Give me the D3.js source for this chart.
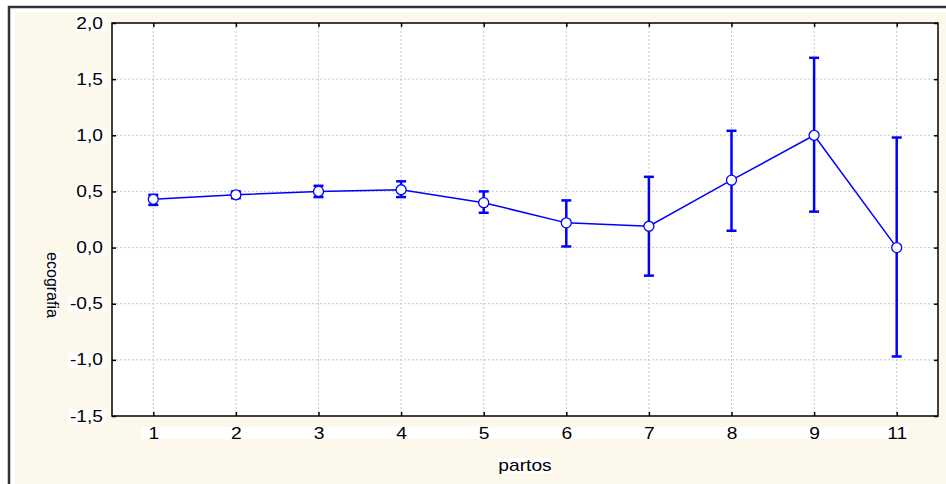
<!DOCTYPE html>
<html>
<head>
<meta charset="utf-8">
<script src="https://cdn.jsdelivr.net/npm/d3@7"></script>
<style>
  body { margin: 0; background: #fff; }
  text { font-family: "Liberation Sans", Arial, sans-serif; }
</style>
</head>
<body>
<div id="chart"></div>
<script>
// partos categories and ecografia means with confidence limits
const categories = ['1', '2', '3', '4', '5', '6', '7', '8', '9', '11'];
const means = [0.43, 0.47, 0.50, 0.515, 0.40, 0.22, 0.19, 0.60, 1.00, 0.00];
const lowerLimits = [0.38, 0.44, 0.45, 0.45, 0.31, 0.01, -0.25, 0.15, 0.32, -0.97];
const upperLimits = [0.47, 0.50, 0.55, 0.59, 0.50, 0.42, 0.63, 1.04, 1.69, 0.98];
const yTicks = [-1.5, -1.0, -0.5, 0.0, 0.5, 1.0, 1.5, 2.0];

const width = 946;
const height = 484;
const plot = { left: 112, right: 938, top: 23, bottom: 416 };
const fontSize = '16px';
const stretch = 'scale(1.2,1)';

const svg = d3.select('#chart')
    .append('svg')
    .attr('width', width)
    .attr('height', height);

// outer frame and cream background
svg.append('rect')
    .attr('x', 0).attr('y', 0)
    .attr('width', width).attr('height', height)
    .attr('fill', '#fff');

svg.append('rect')
    .attr('x', 15).attr('y', 12)
    .attr('width', width - 15).attr('height', height - 12)
    .attr('fill', '#fdf8ec');

svg.append('path')
    .attr('d', `M9,${height} V7 H${width}`)
    .attr('fill', 'none')
    .attr('stroke', '#333')
    .attr('stroke-width', 2.5);

const xScale = d3.scalePoint()
    .domain(categories)
    .range([plot.left, plot.right])
    .padding(0.5);

const yScale = d3.scaleLinear()
    .domain([-1.5, 2.0])
    .range([plot.bottom, plot.top]);

const fmt = d => d3.format('.1f')(d).replace('.', ',').replace('−', '-');

svg.append('rect')
    .attr('x', plot.left).attr('y', plot.top)
    .attr('width', plot.right - plot.left)
    .attr('height', plot.bottom - plot.top)
    .attr('fill', '#fff');

// grid
const grid = svg.append('g')
    .attr('stroke', '#c8c8c8')
    .attr('stroke-width', 1)
    .attr('stroke-dasharray', '2,2');

grid.selectAll('.gy')
    .data(yTicks.filter(d => d > -1.5 && d < 2.0))
    .join('line')
    .attr('x1', plot.left).attr('x2', plot.right)
    .attr('y1', d => yScale(d)).attr('y2', d => yScale(d));

grid.selectAll('.gx')
    .data(categories)
    .join('line')
    .attr('x1', d => xScale(d)).attr('x2', d => xScale(d))
    .attr('y1', plot.top).attr('y2', plot.bottom);

// axes with inward ticks
const axisY = svg.append('g')
    .attr('transform', `translate(${plot.left},0)`)
    .call(d3.axisLeft(yScale).tickValues(yTicks).tickSize(-4).tickFormat(fmt));

const axisYR = svg.append('g')
    .attr('transform', `translate(${plot.right},0)`)
    .call(d3.axisRight(yScale).tickValues(yTicks).tickSize(-4).tickFormat(''));

const axisX = svg.append('g')
    .attr('transform', `translate(0,${plot.bottom})`)
    .call(d3.axisBottom(xScale).tickSize(-4));

const axisXT = svg.append('g')
    .attr('transform', `translate(0,${plot.top})`)
    .call(d3.axisTop(xScale).tickSize(-4).tickFormat(''));

[axisY, axisYR, axisX, axisXT].forEach(a => {
    a.select('.domain').remove();
    a.selectAll('line').attr('stroke', '#000').attr('stroke-width', 1.5);
    a.selectAll('text')
        .attr('fill', '#000')
        .style('font-size', fontSize);
});

axisY.selectAll('.tick text')
    .attr('x', 0)
    .attr('transform', `translate(-9,0) ${stretch}`);

axisX.selectAll('.tick text')
    .attr('y', 0)
    .attr('dy', '0.35em')
    .attr('transform', `translate(0,17) ${stretch}`);

svg.append('rect')
    .attr('x', plot.left).attr('y', plot.top)
    .attr('width', plot.right - plot.left)
    .attr('height', plot.bottom - plot.top)
    .attr('fill', 'none')
    .attr('stroke', '#000')
    .attr('stroke-width', 1.5);

// white boxes behind y tick labels
axisY.selectAll('.tick').each(function () {
    const t = d3.select(this).select('text');
    const b = t.node().getBBox();
    d3.select(this).insert('rect', 'text')
        .attr('transform', t.attr('transform'))
        .attr('x', b.x - 1).attr('y', b.y + 2)
        .attr('width', b.width + 2).attr('height', b.height - 3)
        .attr('fill', '#fff');
});

// white band behind the x tick label row
const firstX = xScale(categories[0]);
const lastX = xScale(categories[categories.length - 1]);
svg.insert('rect', () => axisX.node())
    .attr('x', firstX - 12)
    .attr('y', plot.bottom + 11)
    .attr('width', lastX - firstX + 24)
    .attr('height', 12)
    .attr('fill', '#fff');

// axis titles
function labelWithBox(x, y, text, transform) {
    const g = svg.append('g').attr('transform', `translate(${x},${y}) ${transform}`);
    const t = g.append('text')
        .attr('text-anchor', 'middle')
        .attr('dy', '0.35em')
        .style('font-size', fontSize)
        .text(text);
    const b = t.node().getBBox();
    g.insert('rect', 'text')
        .attr('x', b.x).attr('y', b.y + 2)
        .attr('width', b.width).attr('height', b.height - 3)
        .attr('fill', '#fff');
}
labelWithBox((plot.left + plot.right) / 2, 465, 'partos', stretch);
labelWithBox(53, 285, 'ecografia', 'rotate(90)');

// error bars
const bars = svg.append('g')
    .attr('stroke', '#0000ff')
    .attr('stroke-width', 2.5);

categories.forEach((c, i) => {
    const x = xScale(c);
    bars.append('line')
        .attr('x1', x).attr('x2', x)
        .attr('y1', yScale(lowerLimits[i])).attr('y2', yScale(upperLimits[i]));
    bars.append('line')
        .attr('x1', x - 5).attr('x2', x + 5)
        .attr('y1', yScale(lowerLimits[i])).attr('y2', yScale(lowerLimits[i]));
    bars.append('line')
        .attr('x1', x - 5).attr('x2', x + 5)
        .attr('y1', yScale(upperLimits[i])).attr('y2', yScale(upperLimits[i]));
});

// mean line
svg.append('path')
    .datum(d3.zip(categories, means))
    .attr('fill', 'none')
    .attr('stroke', '#0000ff')
    .attr('stroke-width', 1.5)
    .attr('d', d3.line()
        .x(d => xScale(d[0]))
        .y(d => yScale(d[1])));

svg.append('g')
    .selectAll('circle')
    .data(d3.zip(categories, means))
    .join('circle')
    .attr('cx', d => xScale(d[0]))
    .attr('cy', d => yScale(d[1]))
    .attr('r', 5)
    .attr('fill', '#fff')
    .attr('stroke', '#0000ff')
    .attr('stroke-width', 1.3);
</script>
</body>
</html>
